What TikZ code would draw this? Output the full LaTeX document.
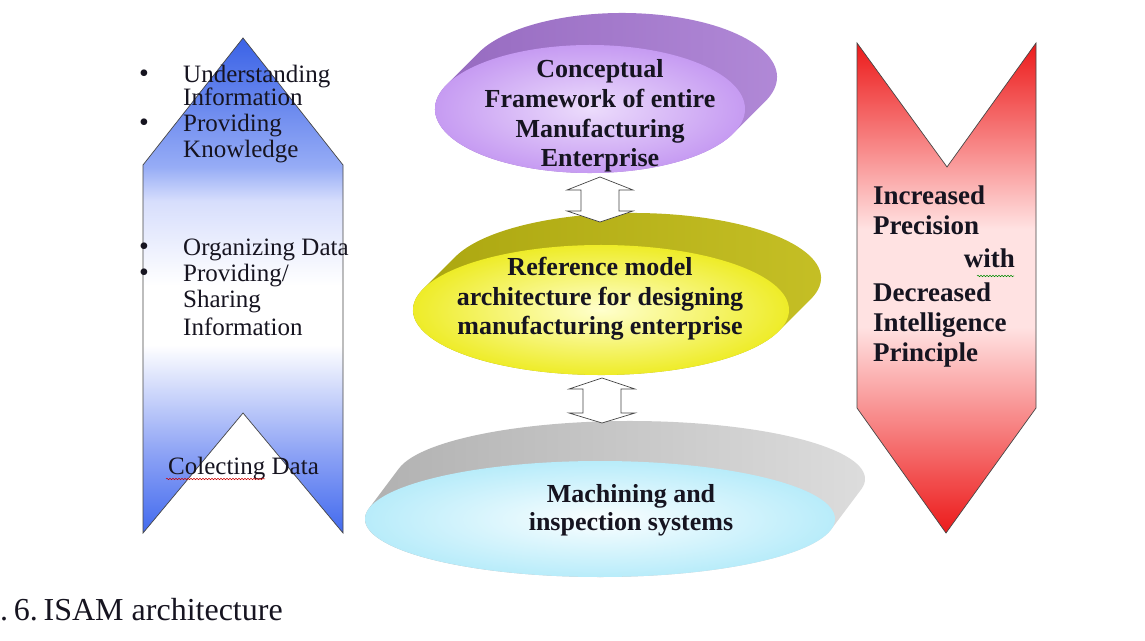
\documentclass[tikz,border=0pt]{standalone}
\usepackage{fontspec}
\setmainfont{Liberation Serif}
\usetikzlibrary{shapes.geometric,calc,decorations.pathmorphing}

\definecolor{txt}{RGB}{22,20,32}
\definecolor{blueA}{RGB}{58,98,230}
\definecolor{blueB}{RGB}{66,106,238}
\definecolor{blueM}{RGB}{140,162,245}
\definecolor{blueS}{RGB}{150,172,246}
\definecolor{blueP}{RGB}{215,222,252}
\definecolor{redA}{RGB}{236,26,26}
\definecolor{redM}{RGB}{248,140,140}
\definecolor{redP}{RGB}{255,226,226}
\definecolor{purIn}{RGB}{236,220,252}
\definecolor{purOut}{RGB}{198,155,242}
\definecolor{purBkL}{RGB}{148,104,190}
\definecolor{purBkR}{RGB}{178,138,216}
\definecolor{yelIn}{RGB}{255,255,205}
\definecolor{yelOut}{RGB}{238,236,40}
\definecolor{yelBkL}{RGB}{170,165,15}
\definecolor{yelBkR}{RGB}{198,192,38}
\definecolor{cyaIn}{RGB}{250,254,255}
\definecolor{cyaOut}{RGB}{184,236,250}
\definecolor{gryBkL}{RGB}{175,175,175}
\definecolor{gryBkM}{RGB}{148,148,148}
\definecolor{gryBkR}{RGB}{222,222,222}

\pgfdeclareverticalshading{bluearrowshade}{100bp}{color(0bp)=(blueB); color(25bp)=(blueB); color(33bp)=(blueM); color(44bp)=(white); color(50bp)=(white); color(58.5bp)=(blueP); color(62bp)=(blueS); color(75bp)=(blueA); color(100bp)=(blueA)}
\pgfdeclareverticalshading{redarrowshade}{100bp}{color(0bp)=(redA); color(25bp)=(redA); color(37bp)=(redM); color(46bp)=(redP); color(56bp)=(redP); color(64bp)=(redM); color(75bp)=(redA); color(100bp)=(redA)}

\newcommand{\mkdisk}[9]{%
  \pgfmathsetmacro{\thA}{atan(-(#5*#6)/(#4*#7))}%
  \pgfmathsetmacro{\thB}{\thA+180}%
  \pgfmathsetmacro{\thC}{\thA-180}%
  \path[#8] ($(#2,#3)+(\thB:#4 and #5)$) -- ++(#6,#7)
     arc[start angle=\thB, end angle=\thA, x radius=#4pt, y radius=#5pt]
     -- ++(-#6,-#7)
     arc[start angle=\thA, end angle=\thC, x radius=#4pt, y radius=#5pt] -- cycle;
  \node[ellipse, inner sep=0pt, minimum width=2*#4pt, minimum height=2*#5pt, #9] (#1) at (#2,#3) {};
}

\tikzset{
  disktext/.style={font=\bfseries\fontsize{26}{29.7}\selectfont, align=center, text=txt, inner sep=0pt, anchor=base},
  bluetext/.style={font=\fontsize{25}{25}\selectfont, text=txt, inner sep=0pt, anchor=base west},
  bullettext/.style={font=\fontsize{28}{28}\selectfont, text=txt, inner sep=0pt, anchor=base west},
  redtext/.style={font=\bfseries\fontsize{27}{30}\selectfont, text=txt, inner sep=0pt, anchor=base west},
  chevron/.style={line width=0.7pt, draw=gray!55!black},
  blockarrow/.style={fill=white, draw=gray!55!black, line width=0.7pt},
  wavy/.style={decorate, decoration={snake, amplitude=0.7pt, segment length=3pt}, line width=0.5pt}
}

\begin{document}
\begin{tikzpicture}[x=1pt,y=1pt]
\path[use as bounding box, fill=white] (0,0) rectangle (1145,640);

% left up-chevron (blue)
\path[chevron, shade, shading=bluearrowshade]
  (243,602) -- (343,475) -- (343,107) -- (243,227) -- (143,107) -- (143,475) -- cycle;

% right down-chevron (red)
\path[chevron, shade, shading=redarrowshade]
  (857,597) -- (947,473) -- (1036,597) -- (1036,232) -- (946,107) -- (857,232) -- cycle;

% disks
\mkdisk{pur}{590}{531}{155}{64}{32}{32}{shade, left color=purBkL, right color=purBkR}{inner color=purIn, outer color=purOut}
\mkdisk{yel}{601}{330}{188}{65}{32}{32}{shade, left color=yelBkL, right color=yelBkR}{inner color=yelIn, outer color=yelOut}
\mkdisk{cya}{600}{121}{235}{58}{30}{40}{shade, left color=gryBkL, middle color=gryBkM, right color=gryBkR}{inner color=cyaIn, outer color=cyaOut}

% double block arrows
\path[blockarrow] (600,463) -- (633,450) -- (619,450) -- (619,429) -- (633,429) -- (600,418)
   -- (567,429) -- (581,429) -- (581,450) -- (567,450) -- cycle;
\path[blockarrow] (602,262) -- (635,251) -- (621,251) -- (621,227) -- (635,227) -- (602,217)
   -- (569,227) -- (583,227) -- (583,251) -- (569,251) -- cycle;

% disk texts (anchor = baseline of the last line)
\node[disktext] (purtxt) at (600,473) {Conceptual\\Framework of entire\\Manufacturing\\Enterprise};
\node[disktext] (yeltxt) at (600,305) {Reference model\\architecture for designing\\manufacturing enterprise};
\node[disktext, font=\bfseries\fontsize{26}{28}\selectfont] (cyatxt) at (631,110) {Machining and\\inspection systems};

% blue chevron texts
\node[bullettext] (bu1) at (139,557) {•};
\node[bluetext] (l1) at (183,557) {Understanding};
\node[bluetext] (l2) at (183,534) {Information};
\node[bullettext] (bu2) at (139,508) {•};
\node[bluetext] (l3) at (183,508) {Providing};
\node[bluetext] (l4) at (183,482) {Knowledge};
\node[bullettext] (bu3) at (139,384) {•};
\node[bluetext] (l5) at (183,384) {Organizing Data};
\node[bullettext] (bu4) at (139,358) {•};
\node[bluetext] (l6) at (183,358) {Providing/};
\node[bluetext] (l7) at (183,332) {Sharing};
\node[bluetext] (l8) at (183,304) {Information};
\node[bluetext] (l9) at (168,165) {Colecting Data};
\coordinate (cw1) at (166,161);
\coordinate (cw2) at (265,161);
\draw[wavy, red!80!black] (cw1) -- (cw2);

% red chevron texts
\node[redtext] (r1) at (873,435) {Increased};
\node[redtext] (r2) at (873,405) {Precision};
\node[redtext, anchor=base east] (r3) at (1015,372) {with};
\coordinate (gw1) at (977,364);
\coordinate (gw2) at (1014,364);
\draw[wavy, green!55!black] (gw1) -- (gw2);
\node[redtext] (r4) at (873,338) {Decreased};
\node[redtext] (r5) at (873,308) {Intelligence};
\node[redtext] (r6) at (873,278) {Principle};

% caption
\node[anchor=base west, inner sep=0pt, font=\fontsize{32}{35}\selectfont, text=txt] (cap) at (0,20) {.\hspace{0.18em}6.\hspace{0.18em}ISAM architecture};
\end{tikzpicture}
\end{document}
